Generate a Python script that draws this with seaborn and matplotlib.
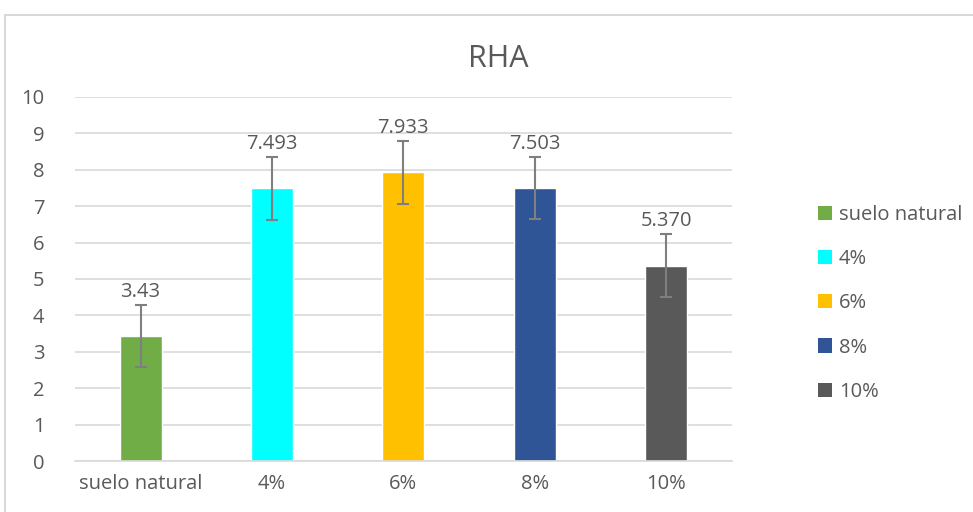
import pandas as pd
import matplotlib.pyplot as plt
import seaborn as sns
from matplotlib.patches import Rectangle, Patch

# data
categories = ['suelo natural', '4%', '6%', '8%', '10%']
values = [3.43, 7.493, 7.933, 7.503, 5.370]
errors = [0.86, 0.86, 0.86, 0.86, 0.86]
value_labels = ['3.43', '7.493', '7.933', '7.503', '5.370']
colors = ['#70ad47', '#00ffff', '#ffc000', '#2f5597', '#595959']

TEXT = '#595959'

sns.set_theme(style='white')
plt.rcParams['font.family'] = ['Open Sans', 'DejaVu Sans']

df = pd.DataFrame({'grupo': categories, 'RHA': values})

fig = plt.figure(figsize=(9.73, 5.12), dpi=100)
ax = fig.add_axes([0.077, 0.0996, 0.675, 0.711])

sns.barplot(data=df, x='grupo', y='RHA', hue='grupo', palette=colors,
            order=categories, hue_order=categories, dodge=False,
            width=0.32, saturation=1, legend=False, ax=ax)

ax.errorbar(range(len(categories)), values, yerr=errors, fmt='none',
            ecolor='#7f7f7f', elinewidth=1.5, capsize=4.5, capthick=1.5, zorder=3)

for i, (v, e, lab) in enumerate(zip(values, errors, value_labels)):
    ax.text(i, v + e + 0.08, lab, ha='center', va='bottom', fontsize=14.5, color=TEXT)

ax.set_ylim(0, 10)
ax.set_xlim(-0.5, len(categories) - 0.5)
ax.set_yticks(range(0, 11))
ax.yaxis.grid(True, color='#d9d9d9', linewidth=1.2)
ax.set_axisbelow(True)
for s in ['top', 'right', 'left']:
    ax.spines[s].set_visible(False)
ax.spines['bottom'].set_color('#d9d9d9')
ax.spines['bottom'].set_linewidth(1.2)
ax.tick_params(axis='both', length=0, labelsize=14.5, labelcolor=TEXT, pad=9)
ax.tick_params(axis='y', pad=22)
ax.set_xlabel('')
ax.set_ylabel('')

fig.text(0.512, 0.855, 'RHA', ha='center', va='bottom', fontsize=22, color=TEXT)

handles = [Patch(facecolor=c, edgecolor='none') for c in colors]
leg = fig.legend(handles, categories, loc='upper left', bbox_to_anchor=(0.822, 0.635),
                 frameon=False, fontsize=14.5, labelcolor=TEXT, handlelength=0.7,
                 handleheight=0.7, handletextpad=0.35, labelspacing=1.2)

# outer chart border
fig.patches.append(Rectangle((5 / 973, -0.1), 1.2, 1 - 15 / 512 + 0.1,
                             transform=fig.transFigure, fill=False,
                             edgecolor='#d9d9d9', linewidth=1.5))

fig.savefig('out.png', dpi=100)
plt.close(fig)
